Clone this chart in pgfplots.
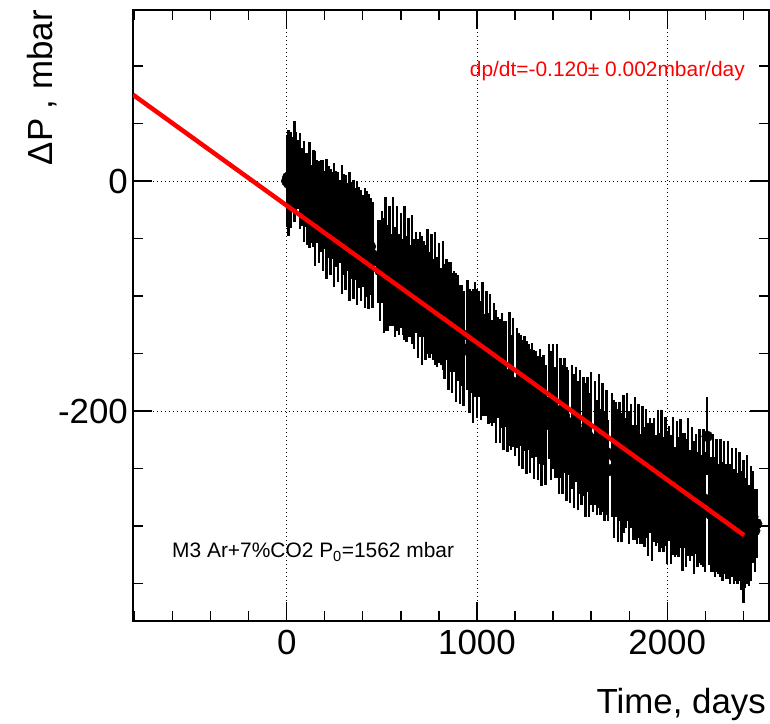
\documentclass[border=0pt]{standalone}
\usepackage{pgfplots}
\pgfplotsset{compat=1.18}
\usepackage{pgfplotstable}
\usepackage{fontspec}
\setmainfont{Liberation Sans}
\pgfplotstableread{
x y e
0 0 40
5 3 34
10 -2 46
15 4 28
20 1 42
30 6 32
40 8 44
50 7 36
60 6 30
70 0 42
80 -5 34
90 -9 44
100 -8 32
110 -16 40
120 -12 46
130 -20 34
140 -15 42
150 -24 50
160 -18 36
170 -27 44
180 -22 40
190 -30 48
200 -25 34
210 -33 52
220 -27 40
230 -36 46
240 -30 38
250 -38 54
260 -33 42
270 -40 48
280 -35 36
290 -42 56
300 -38 44
310 -45 50
320 -40 38
330 -48 56
340 -43 42
350 -51 52
360 -46 40
370 -54 54
380 -49 44
390 -56 48
400 -52 40
410 -58 52
420 -55 46
430 -61 50
440 -57 42
450 -64 46
480 -70 36
490 -78 44
500 -66 40
510 -82 50
520 -72 58
530 -84 46
540 -74 52
550 -86 40
560 -70 56
570 -88 48
580 -76 54
590 -90 44
600 -78 50
610 -92 42
620 -80 58
630 -94 46
640 -84 52
650 -96 40
660 -86 56
670 -98 48
680 -88 44
690 -102 52
700 -90 46
710 -104 56
720 -94 42
730 -106 50
740 -96 54
750 -108 46
760 -98 52
770 -112 44
780 -102 58
790 -114 48
800 -106 52
810 -118 42
820 -108 56
830 -122 50
840 -112 44
850 -126 56
860 -118 48
870 -132 52
880 -122 44
890 -136 56
900 -128 46
910 -142 52
920 -134 44
930 -146 50
950 -134 48
960 -148 54
970 -140 44
980 -152 58
990 -138 50
1000 -150 56
1010 -142 46
1020 -156 52
1030 -146 58
1040 -160 44
1050 -150 54
1060 -163 48
1070 -154 56
1080 -167 46
1090 -158 52
1100 -170 58
1110 -162 44
1120 -174 54
1130 -165 50
1140 -178 56
1150 -168 46
1160 -206 30
1170 -172 58
1180 -184 50
1190 -175 56
1200 -205 34
1210 -180 52
1220 -190 58
1230 -182 48
1240 -194 56
1250 -185 50
1260 -197 58
1270 -188 46
1280 -200 54
1290 -191 50
1300 -203 56
1310 -194 46
1320 -206 54
1330 -196 50
1340 -209 56
1350 -199 48
1360 -212 52
1380 -192 50
1390 -204 56
1400 -196 54
1410 -210 48
1420 -200 58
1430 -244 28
1440 -206 52
1450 -216 56
1460 -204 50
1470 -220 58
1480 -210 46
1490 -250 30
1500 -214 54
1510 -226 58
1520 -212 50
1530 -230 56
1540 -218 54
1550 -254 28
1560 -222 52
1570 -234 58
1580 -220 50
1590 -238 54
1600 -224 58
1610 -258 30
1620 -228 54
1630 -240 50
1640 -226 58
1650 -244 46
1660 -232 56
1670 -248 48
1680 -236 54
1690 -252 44
1710 -238 54
1720 -250 60
1730 -242 50
1740 -256 58
1750 -244 52
1760 -258 56
1770 -246 60
1780 -254 48
1790 -240 56
1800 -258 58
1810 -248 54
1820 -262 50
1830 -250 62
1840 -264 52
1850 -252 58
1860 -268 48
1870 -256 60
1880 -266 52
1890 -254 56
1900 -268 58
1910 -256 50
1920 -270 60
1930 -260 54
1940 -269 48
1950 -257 58
1960 -271 52
1970 -259 60
1980 -273 50
1990 -261 56
2000 -275 58
2010 -263 50
2020 -277 56
2030 -265 60
2040 -279 48
2050 -267 58
2060 -275 52
2070 -263 56
2080 -279 60
2090 -269 50
2100 -280 56
2110 -266 60
2120 -282 48
2130 -270 56
2140 -284 58
2150 -272 52
2160 -286 50
2170 -274 58
2180 -286 48
2190 -276 60
2200 -288 52
2210 -222 34
2220 -278 56
2230 -290 50
2240 -280 60
2250 -292 52
2260 -282 58
2270 -294 48
2280 -284 60
2290 -296 52
2300 -284 58
2310 -296 50
2320 -286 60
2330 -298 52
2340 -288 56
2350 -300 50
2360 -290 58
2370 -302 48
2380 -292 56
2390 -304 52
2400 -305 62
2410 -306 48
2420 -294 56
2430 -308 44
2440 -298 50
2450 -292 40
2460 -304 36
2470 -298 30
}\datatable
\begin{document}
\begin{tikzpicture}
\useasboundingbox (-133bp,-103bp) rectangle (637bp,621bp);
\begin{axis}[
  at={(0,0)}, anchor=south west,
  scale only axis, width=636bp, height=611bp,
  xmin=-808, xmax=2535, ymin=-382.6, ymax=148.7,
  clip mode=individual,
  axis line style={line width=1.3bp},
  xtick={0,1000,2000}, ytick={-200,0},
  minor xtick={-800,-600,...,2400},
  minor ytick={-350,-300,...,100},
  major tick length=19bp, minor tick length=10bp,
  major tick style={black, line width=1.3bp},
  minor tick style={black, line width=1.3bp},
  tick align=inside,
  grid=major,
  major grid style={black, line width=0.9bp, dash pattern=on 1bp off 3bp},
  /pgf/number format/assume math mode=true,
  /pgf/number format/1000 sep={},
  tick label style={font=\fontsize{35}{42}\selectfont},
  yticklabel style={inner sep=0pt, xshift=-5bp},
  xticklabel style={inner sep=0pt, yshift=-9bp},
]
\addplot[only marks, mark=*, mark size=5.5bp, black, mark options={draw=black, fill=black},
  error bars/.cd, y dir=both, y explicit, error mark=none,
  error bar style={line width=2.4bp, black}]
  table[x=x, y=y, y error=e] {\datatable};
\addplot[red, line width=4.5bp] coordinates {(-808,75) (2404,-308)};
\end{axis}
\node[anchor=base east, text=red, font=\fontsize{21}{25}\selectfont, inner sep=0pt] at (612bp,544bp) {dp/dt=-0.120± 0.002mbar/day};
\node[anchor=base west, font=\fontsize{21}{25}\selectfont, inner sep=0pt] at (39bp,63bp) {M3 Ar+7\%CO2 P\textsubscript{0}=1562 mbar};
\node[anchor=base east, font=\fontsize{35}{42}\selectfont, inner sep=0pt] at (633bp,-92bp) {Time, days};
\node[anchor=base east, rotate=90, font=\fontsize{35}{42}\selectfont, inner sep=0pt] at (-80bp,611bp) {ΔP , mbar};
\end{tikzpicture}
\end{document}
